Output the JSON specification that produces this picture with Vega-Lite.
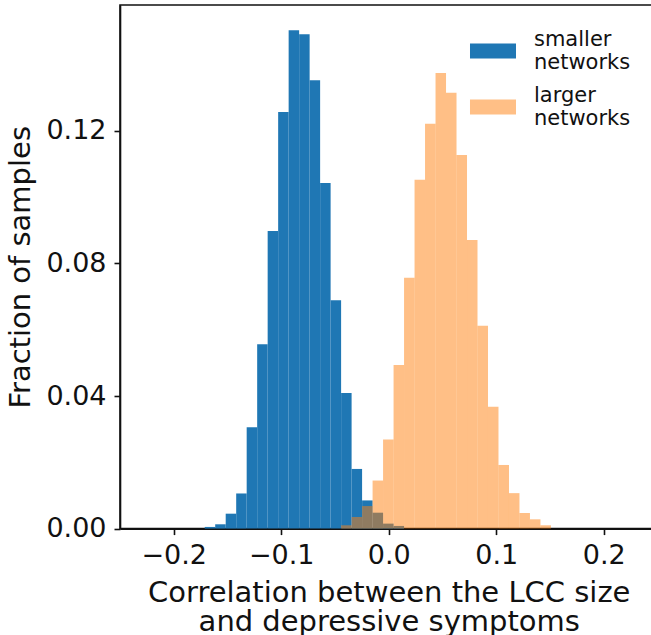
{
  "$schema": "https://vega.github.io/schema/vega-lite/v6.json",
  "autosize": "none",
  "padding": {"left": 120, "top": 5, "right": 0, "bottom": 107},
  "width": 537.5,
  "height": 523.6,
  "config": {
    "font": "DejaVu Sans",
    "view": {"stroke": "#111", "strokeWidth": 1.6},
    "axis": {
      "domainColor": "#111", "domainWidth": 1.6, "tickColor": "#111", "tickWidth": 1.6, "tickSize": 6,
      "labelColor": "#111", "titleColor": "#111", "labelFont": "DejaVu Sans", "titleFont": "DejaVu Sans",
      "labelFontSize": 27, "titleFontSize": 29, "titleFontWeight": "normal", "grid": false
    }
  },
  "data": {"values": [
    {"group": "smaller\nnetworks", "x0": -0.1712, "x1": -0.16144, "fraction": 0.0005},
    {"group": "smaller\nnetworks", "x0": -0.16144, "x1": -0.15168, "fraction": 0.0013},
    {"group": "smaller\nnetworks", "x0": -0.15168, "x1": -0.14192, "fraction": 0.0045},
    {"group": "smaller\nnetworks", "x0": -0.14192, "x1": -0.13216, "fraction": 0.0106},
    {"group": "smaller\nnetworks", "x0": -0.13216, "x1": -0.1224, "fraction": 0.0306},
    {"group": "smaller\nnetworks", "x0": -0.1224, "x1": -0.11264, "fraction": 0.0556},
    {"group": "smaller\nnetworks", "x0": -0.11264, "x1": -0.10288, "fraction": 0.0898},
    {"group": "smaller\nnetworks", "x0": -0.10288, "x1": -0.09312, "fraction": 0.1257},
    {"group": "smaller\nnetworks", "x0": -0.09312, "x1": -0.08336, "fraction": 0.1504},
    {"group": "smaller\nnetworks", "x0": -0.08336, "x1": -0.0736, "fraction": 0.1492},
    {"group": "smaller\nnetworks", "x0": -0.0736, "x1": -0.06384, "fraction": 0.1353},
    {"group": "smaller\nnetworks", "x0": -0.06384, "x1": -0.05408, "fraction": 0.1043},
    {"group": "smaller\nnetworks", "x0": -0.05408, "x1": -0.04432, "fraction": 0.0689},
    {"group": "smaller\nnetworks", "x0": -0.04432, "x1": -0.03456, "fraction": 0.0409},
    {"group": "smaller\nnetworks", "x0": -0.03456, "x1": -0.0248, "fraction": 0.018},
    {"group": "smaller\nnetworks", "x0": -0.0248, "x1": -0.01504, "fraction": 0.0085},
    {"group": "smaller\nnetworks", "x0": -0.01504, "x1": -0.00528, "fraction": 0.0048},
    {"group": "smaller\nnetworks", "x0": -0.00528, "x1": 0.00448, "fraction": 0.0015},
    {"group": "smaller\nnetworks", "x0": 0.00448, "x1": 0.01424, "fraction": 0.0008},
    {"group": "larger\nnetworks", "x0": -0.04432, "x1": -0.03456, "fraction": 0.001},
    {"group": "larger\nnetworks", "x0": -0.03456, "x1": -0.0248, "fraction": 0.0035},
    {"group": "larger\nnetworks", "x0": -0.0248, "x1": -0.01504, "fraction": 0.0068},
    {"group": "larger\nnetworks", "x0": -0.01504, "x1": -0.00528, "fraction": 0.0145},
    {"group": "larger\nnetworks", "x0": -0.00528, "x1": 0.00448, "fraction": 0.0269},
    {"group": "larger\nnetworks", "x0": 0.00448, "x1": 0.01424, "fraction": 0.0494},
    {"group": "larger\nnetworks", "x0": 0.01424, "x1": 0.024, "fraction": 0.0757},
    {"group": "larger\nnetworks", "x0": 0.024, "x1": 0.03376, "fraction": 0.1053},
    {"group": "larger\nnetworks", "x0": 0.03376, "x1": 0.04352, "fraction": 0.1222},
    {"group": "larger\nnetworks", "x0": 0.04352, "x1": 0.05328, "fraction": 0.1375},
    {"group": "larger\nnetworks", "x0": 0.05328, "x1": 0.06304, "fraction": 0.1315},
    {"group": "larger\nnetworks", "x0": 0.06304, "x1": 0.0728, "fraction": 0.1127},
    {"group": "larger\nnetworks", "x0": 0.0728, "x1": 0.08256, "fraction": 0.0871},
    {"group": "larger\nnetworks", "x0": 0.08256, "x1": 0.09232, "fraction": 0.0612},
    {"group": "larger\nnetworks", "x0": 0.09232, "x1": 0.10208, "fraction": 0.0368},
    {"group": "larger\nnetworks", "x0": 0.10208, "x1": 0.11184, "fraction": 0.0192},
    {"group": "larger\nnetworks", "x0": 0.11184, "x1": 0.1216, "fraction": 0.0107},
    {"group": "larger\nnetworks", "x0": 0.1216, "x1": 0.13136, "fraction": 0.0047},
    {"group": "larger\nnetworks", "x0": 0.13136, "x1": 0.14112, "fraction": 0.0028},
    {"group": "larger\nnetworks", "x0": 0.14112, "x1": 0.15088, "fraction": 0.001}
  ]},
  "mark": {"type": "rect", "strokeWidth": 0},
  "encoding": {
    "x": {"field": "x0", "type": "quantitative",
      "scale": {"domain": [-0.25, 0.25], "nice": false, "zero": false},
      "axis": {"values": [-0.2, -0.1, 0, 0.1, 0.2], "format": ".1f", "labelPadding": 8, "titlePadding": 10,
        "title": ["Correlation between the LCC size", "and depressive symptoms"], "titleLineHeight": 29}},
    "x2": {"field": "x1"},
    "y": {"field": "fraction", "type": "quantitative",
      "scale": {"domain": [0, 0.158], "nice": false},
      "axis": {"values": [0, 0.04, 0.08, 0.12], "format": ".2f", "labelPadding": 8, "titlePadding": 10,
        "title": "Fraction of samples"}},
    "y2": {"datum": 0},
    "color": {"field": "group", "type": "nominal",
      "scale": {"domain": ["smaller\nnetworks", "larger\nnetworks"], "range": ["#1f77b4", "rgba(255,127,14,0.5)"]},
      "legend": {"title": null, "orient": "none", "legendX": 350, "legendY": 12, "padding": 0,
        "labelExpr": "split(datum.label, '\\n')", "labelFontSize": 21, "labelFont": "DejaVu Sans", "labelColor": "#111",
        "labelBaseline": "middle",
        "symbolType": "M-1,0.152H1V0.804H-1Z", "symbolSize": 2116, "symbolStrokeWidth": 0,
        "labelOffset": 18, "rowPadding": -6, "labelLimit": 300}},
    "order": {"field": "group", "sort": "descending"}
  }
}
